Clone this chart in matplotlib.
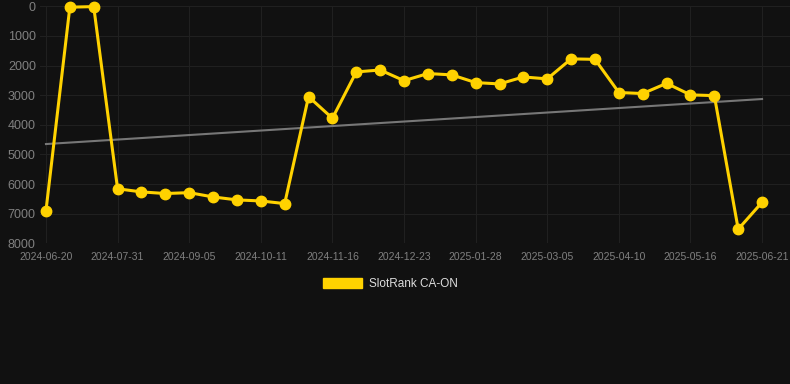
import numpy as np
import matplotlib
matplotlib.use('Agg')
import matplotlib.pyplot as plt
from matplotlib.patches import Patch


#Data:
ranks = [6900, 30, 10, 6160, 6265, 6320, 6290, 6435, 6535, 6570, 6660,
         3050, 3780, 2215, 2150, 2510, 2270, 2315, 2575, 2620, 2385, 2450,
         1775, 1790, 2910, 2945, 2600, 2990, 3015, 7525, 6615]
tick_labels = ['2024-06-20', '2024-07-31', '2024-09-05', '2024-10-11', '2024-11-16',
               '2024-12-23', '2025-01-28', '2025-03-05', '2025-04-10', '2025-05-16',
               '2025-06-21']
trend_ends = [4650, 3130]
y_ticks = [0, 1000, 2000, 3000, 4000, 5000, 6000, 7000, 8000]

plt.rcParams['font.family'] = ['Liberation Sans', 'DejaVu Sans']

bg = '#111111'
gold = '#FFD200'
label_col = '#808080'

x = np.arange(len(ranks))

fig = plt.figure(figsize=(7.9, 3.84), dpi=100, facecolor=bg)
ax = fig.add_axes([40/790, 1-243.3/384, 750/790, 237/384], facecolor=bg)

#trend line:
ax.plot([x[0], x[-1]], trend_ends, color='#777777', linewidth=1.5, zorder=2)

#rank line:
ax.plot(x, ranks, color=gold, linewidth=2.2, marker='o', markersize=7.5,
        clip_on=False, zorder=3)

ax.set_ylim(8000, 0)
ax.set_xlim(-0.25, 31.17)
ax.set_yticks(y_ticks)
ax.set_yticklabels([str(v) for v in y_ticks], fontsize=9, color=label_col)
ax.set_xticks(x[::3])
ax.set_xticklabels(tick_labels, fontsize=7.5, color=label_col)
ax.tick_params(length=0, pad=3)
ax.tick_params(axis='x', pad=6)
ax.grid(color='#202020', linewidth=0.8)
for s in ax.spines.values():
    s.set_visible(False)

fig.legend(handles=[Patch(facecolor=gold, edgecolor=gold)], labels=['SlotRank CA-ON'],
           loc='center', bbox_to_anchor=(390/790, 1-284/384), frameon=False,
           fontsize=8.5, labelcolor='#dddddd', handlelength=3.3, handleheight=1.0,
           handletextpad=0.6)

plt.savefig('out.png', dpi=100, facecolor=bg)
